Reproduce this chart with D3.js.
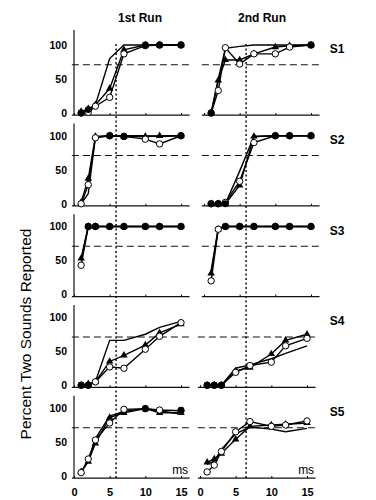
<!DOCTYPE html>
<html>
<head>
<meta charset="utf-8">
<script src="https://cdn.jsdelivr.net/npm/d3@7"></script>
<style>
  body { margin: 0; background: #fff; }
  svg { display: block; font-family: 'Liberation Sans', Arial, sans-serif; }
</style>
</head>
<body>
<div id="chart"></div>
<script>
// gap lengths (ms) and tick values
let gapMs = [1, 2, 3, 5, 7, 10, 12, 15];
let msTicks = [0, 5, 10, 15];
let pctTicks = [0, 50, 100];
let subjects = ['S1', 'S2', 'S3', 'S4', 'S5'];
let runs = ['1st Run', '2nd Run'];
let criterionPct = 71;
let thresholdMs = 5.9;

// 1st run, one row per subject
let run1Line = [
    [0, 3, 12, 80, 100, 100, 100, 100],
    [0, 15, 98, 100, 100, 100, 99, 100],
    [50, 100, 100, 100, 100, 100, 100, 100],
    [0, 0, 5, 66, 66, 75, 85, 94],
    [6, 22, 55, 88, 95, 99, 96, 91]
];
let run1Tri = [
    [2, 6, 12, 36, 93, 100, 100, 100],
    [2, 37, 99, 100, 99, 99, 100, 100],
    [53, 100, 100, 100, 100, 100, 100, 100],
    [0, 2, 5, 35, 44, 59, 77, 90],
    [6, 21, 48, 86, 93, 99, 93, 93]
];
let run1Open = [
    [0, 1, 10, 23, 87, 99, 100, 100],
    [0, 28, 97, 100, 99, 95, 88, 100],
    [43, 100, 100, 100, 100, 100, 100, 100],
    [0, 0, 5, 27, 25, 53, 72, 92],
    [5, 25, 53, 78, 98, 99, 97, 96]
];
let run1Dot = [
    [0, 5, null, null, null, 100, 100, 100],
    [null, null, null, 100, 99, null, null, 100],
    [null, 100, 100, 100, 100, 100, 100, 100],
    [0, 0, null, null, null, null, null, null],
    [null, null, null, null, null, 99, null, 97]
];

// 2nd run
let run2Line = [
    [0, 50, 95, 98, 100, 100, 100, 100],
    [0, 0, 0, 48, 99, 100, 100, 100],
    [35, 98, 100, 100, 100, 100, 100, 100],
    [0, 0, 0, 25, 30, 39, 47, 58],
    [17, 22, 39, 62, 72, 69, 65, 70]
];
let run2Tri = [
    [0, 48, 78, 78, 87, 97, 99, 100],
    [0, 0, 0, 27, 99, 100, 100, 100],
    [31, 96, 100, 100, 100, 100, 100, 100],
    [0, 0, 0, 21, 26, 46, 66, 75],
    [20, 25, 33, 54, 73, 75, 76, 78]
];
let run2Open = [
    [0, 33, 96, 72, 87, 87, 97, 100],
    [0, 0, 2, 33, 90, 100, 100, 100],
    [20, 96, 100, 100, 100, 100, 100, 100],
    [0, 0, 0, 19, 29, 34, 58, 69],
    [6, 16, 36, 65, 80, 73, 75, 81]
];
let run2Dot = [
    [0, null, null, null, null, null, null, 100],
    [0, 0, 0, null, null, 100, 100, 100],
    [null, null, 100, 100, 100, 100, 100, 100],
    [0, 0, 0, null, null, null, null, null],
    [null, null, null, null, null, null, null, null]
];

let runData = [
    { line: run1Line, tri: run1Tri, open: run1Open, dot: run1Dot },
    { line: run2Line, tri: run2Tri, open: run2Open, dot: run2Dot }
];

let width = 376;
let height = 500;

let svg = d3.select('#chart').append('svg')
    .attr('width', width)
    .attr('height', height);

// layout of the 5 x 2 panels
let rowHeight = 68;
function rowBase(r) { return 113 + r * 90.75; }
function xRange(c, r) {
    if (c === 0) return [74, 181];
    return r < 3 ? [204, 311] : [200, 307];  // scanned panels sit a bit apart
}

let line = (x, y) => d3.line()
    .defined(d => d.v != null)
    .x(d => x(d.ms))
    .y(d => y(d.v));

function pts(vals) {
    return gapMs.map((ms, i) => ({ ms: ms, v: vals[i] }));
}

let topScales = [];

runs.forEach(function (run, c) {
    subjects.forEach(function (subj, r) {
        let x = d3.scaleLinear().domain([0, 15]).range(xRange(c, r));
        let y = d3.scaleLinear().domain([0, 100]).range([rowBase(r), rowBase(r) - rowHeight]);
        if (r === 0) topScales.push(x);

        let g = svg.append('g').attr('class', 'panel');

        // baseline with small ticks
        g.append('line')
            .attr('x1', x(-0.3)).attr('x2', x(16.2))
            .attr('y1', y(-3)).attr('y2', y(-3))
            .attr('stroke', '#111').attr('stroke-width', 1.2);

        let xAxis = d3.axisBottom(x)
            .tickValues(msTicks)
            .tickSizeInner(-2)
            .tickSizeOuter(0)
            .tickPadding(10)
            .tickFormat(r === 4 ? d3.format('d') : '');
        let xg = g.append('g')
            .attr('transform', 'translate(0,' + y(-3) + ')')
            .call(xAxis);
        xg.select('.domain').remove();
        xg.selectAll('text')
            .attr('font-size', '11px')
            .attr('font-weight', 'bold')
            .attr('fill', '#000');

        // y axis only on the left column
        if (c === 0) {
            g.append('line')
                .attr('x1', x(0)).attr('x2', x(0))
                .attr('y1', y(-3)).attr('y2', y(r === 0 ? 122 : 118))
                .attr('stroke', '#111').attr('stroke-width', 1.2);
            let yg = g.append('g')
                .attr('transform', 'translate(' + x(0) + ',0)')
                .call(d3.axisLeft(y).tickValues(pctTicks).tickSize(0).tickPadding(7));
            yg.select('.domain').remove();
            yg.selectAll('text')
                .attr('font-size', '10.5px')
                .attr('font-weight', 'bold')
                .attr('fill', '#000');
        }

        // 71% criterion line
        g.append('line')
            .attr('x1', x(-0.3)).attr('x2', x(16.2))
            .attr('y1', y(criterionPct)).attr('y2', y(criterionPct))
            .attr('stroke', '#111').attr('stroke-width', 1.1)
            .attr('stroke-dasharray', '7,4');

        let d = runData[c];
        let mk = line(x, y);

        ['line', 'tri', 'open'].forEach(function (key) {
            g.append('path')
                .datum(pts(d[key][r]))
                .attr('d', mk)
                .attr('fill', 'none')
                .attr('stroke', '#000')
                .attr('stroke-width', 1.4);
        });

        g.selectAll('.tri')
            .data(pts(d.tri[r]))
            .enter().append('path')
            .attr('class', 'tri')
            .attr('transform', p => 'translate(' + x(p.ms) + ',' + y(p.v) + ')')
            .attr('d', d3.symbol().type(d3.symbolTriangle).size(24))
            .attr('fill', '#000');

        g.selectAll('.open')
            .data(pts(d.open[r]))
            .enter().append('circle')
            .attr('class', 'open')
            .attr('cx', p => x(p.ms))
            .attr('cy', p => y(p.v))
            .attr('r', 3.2)
            .attr('fill', '#fff')
            .attr('stroke', '#000')
            .attr('stroke-width', 1);

        g.selectAll('.dot')
            .data(pts(d.dot[r]).filter(p => p.v != null))
            .enter().append('circle')
            .attr('class', 'dot')
            .attr('cx', p => x(p.ms))
            .attr('cy', p => y(p.v))
            .attr('r', 3.4)
            .attr('fill', '#000');

        if (c === 1) {
            svg.append('text')
                .attr('x', 337)
                .attr('y', y(94) + 4)
                .attr('text-anchor', 'middle')
                .attr('font-size', '12px')
                .attr('font-weight', 'bold')
                .text(subj);
        }

        if (r === 4) {
            svg.append('text')
                .attr('x', x(16))
                .attr('y', y(9) + 4)
                .attr('text-anchor', 'end')
                .attr('font-size', '12px')
                .text('ms');
        }

        if (r === 0) {
            svg.append('text')
                .attr('x', c === 0 ? 140 : 262)
                .attr('y', 22)
                .attr('text-anchor', 'middle')
                .attr('font-size', '12px')
                .attr('font-weight', 'bold')
                .text(run);
        }
    });
});

// dotted threshold lines through each column
topScales.forEach(function (x) {
    svg.append('line')
        .attr('x1', x(thresholdMs)).attr('x2', x(thresholdMs))
        .attr('y1', 44).attr('y2', 480)
        .attr('stroke', '#000').attr('stroke-width', 1.4)
        .attr('stroke-dasharray', '2,2.5');
});

// y label
svg.append('text')
    .attr('transform', 'translate(31,334) rotate(-90)')
    .attr('text-anchor', 'middle')
    .attr('font-size', '15.5px')
    .text('Percent Two Sounds Reported');
</script>
</body>
</html>
